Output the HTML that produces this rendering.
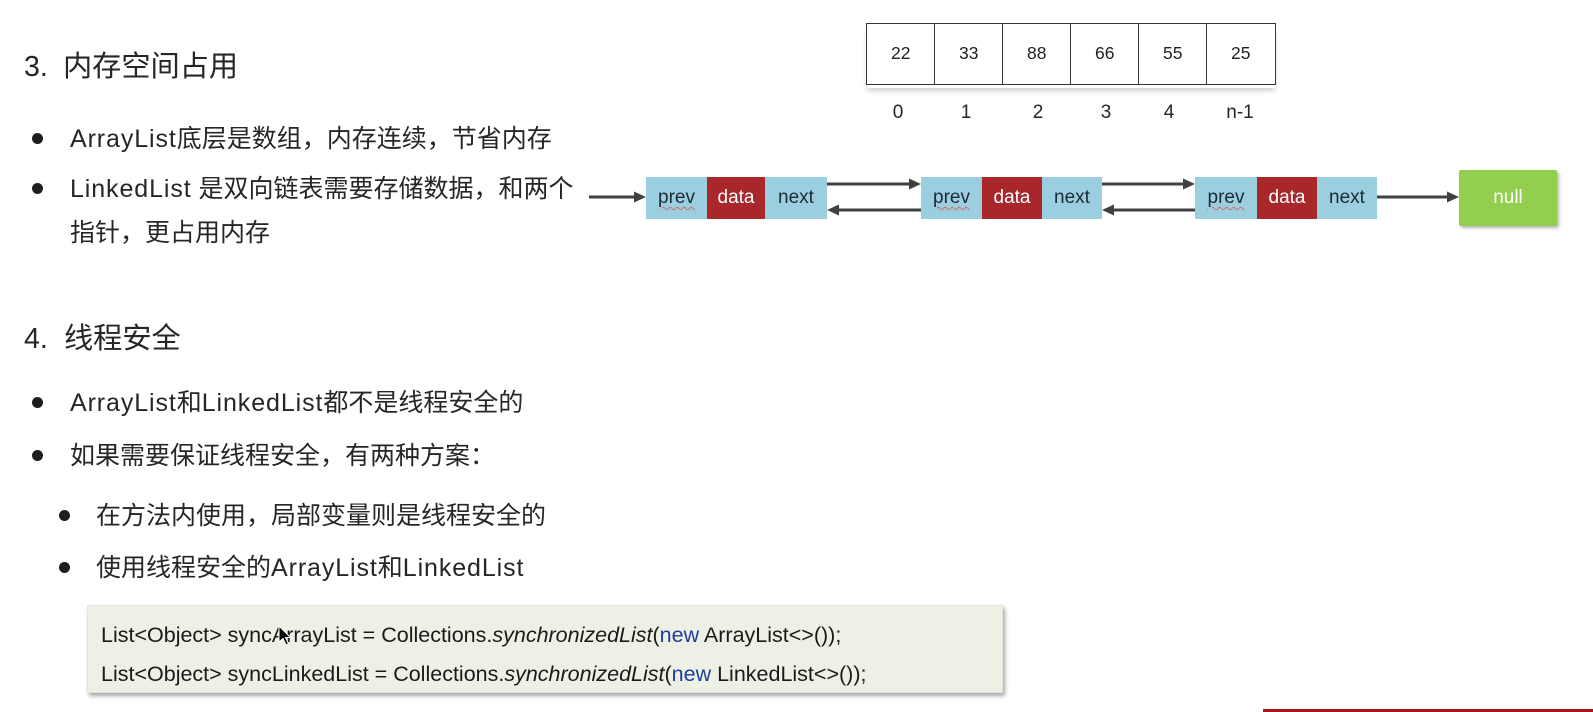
<!DOCTYPE html>
<html><head><meta charset="utf-8">
<style>
*{margin:0;padding:0;box-sizing:border-box}
html,body{width:1593px;height:712px;overflow:hidden;background:#fff}
body{position:relative;font-family:"Liberation Sans","Noto Sans CJK SC",sans-serif;color:#262626}
.a{position:absolute;white-space:nowrap}
.title{font-size:28.5px;line-height:34px}
.tc{font-size:29.2px}
.b{font-size:25px;line-height:30px}
.l{letter-spacing:0.9px}
.dot{position:absolute;width:11px;height:11px;border-radius:50%;background:#1e1e1e}
.cell{position:absolute;top:23px;height:62px;width:69.5px;border:1.5px solid #363636;background:#fff;font-size:17.5px;line-height:59px;text-align:center;color:#222}
.idx{position:absolute;top:100px;width:60px;text-align:center;font-size:19px;line-height:26px;color:#262626}
.seg{position:absolute;top:177px;height:42px;font-size:19px;line-height:42px;text-align:center}
.pv{background:#9bcfe0;color:#1c2a36}
.dt{background:#a9272a;color:#fff}
.nx{background:#9bcfe0;color:#1c2a36}
.wav{text-decoration:underline wavy #d46a6a;text-decoration-thickness:1px;text-underline-offset:3px}
.code{position:absolute;left:87px;top:605px;width:916px;height:88px;background:#edf0e4;border:1px solid #e2e5d8;box-shadow:2px 3px 4px rgba(0,0,0,0.35)}
.cl{position:absolute;left:13px;font-size:21.5px;line-height:26px;color:#1a1a1a;white-space:nowrap;font-family:"Liberation Sans",sans-serif}
.kw{color:#1f3c9e}
</style></head>
<body>

<!-- Section 3 -->
<div class="a title" style="left:24px;top:50px">3.</div>
<div class="a title tc" style="left:63px;top:50px">内存空间占用</div>

<div class="dot" style="left:32px;top:133px"></div>
<div class="a b" style="left:70px;top:124px"><span class="l">ArrayList</span>底层是数组，内存连续，节省内存</div>
<div class="dot" style="left:32px;top:183px"></div>
<div class="a b" style="left:70px;top:174px"><span class="l">LinkedList</span> 是双向链表需要存储数据，和两个</div>
<div class="a b" style="left:70px;top:218px">指针，更占用内存</div>

<!-- Section 4 -->
<div class="a title" style="left:24px;top:322px">4.</div>
<div class="a title tc" style="left:64px;top:322px">线程安全</div>

<div class="dot" style="left:32px;top:397px"></div>
<div class="a b" style="left:70px;top:388px"><span class="l">ArrayList</span>和<span class="l">LinkedList</span>都不是线程安全的</div>
<div class="dot" style="left:32px;top:450px"></div>
<div class="a b" style="left:70px;top:441px">如果需要保证线程安全，有两种方案：</div>

<div class="dot" style="left:59px;top:510px"></div>
<div class="a b" style="left:96px;top:501px">在方法内使用，局部变量则是线程安全的</div>
<div class="dot" style="left:59px;top:562px"></div>
<div class="a b" style="left:96px;top:553px">使用线程安全的<span class="l">ArrayList</span>和<span class="l">LinkedList</span></div>

<!-- Array -->
<div style="position:absolute;left:867px;top:28px;width:408px;height:60px;box-shadow:0 3px 5px rgba(0,0,0,0.18)"></div>
<div class="cell" style="left:866px">22</div>
<div class="cell" style="left:934px">33</div>
<div class="cell" style="left:1002px">88</div>
<div class="cell" style="left:1070px">66</div>
<div class="cell" style="left:1138px">55</div>
<div class="cell" style="left:1206px">25</div>

<div class="idx" style="left:868px">0</div>
<div class="idx" style="left:936px">1</div>
<div class="idx" style="left:1008px">2</div>
<div class="idx" style="left:1076px">3</div>
<div class="idx" style="left:1139px">4</div>
<div class="idx" style="left:1210px">n-1</div>

<!-- Linked list nodes -->
<div class="seg pv" style="left:646px;width:61px"><span class="wav">prev</span></div>
<div class="seg dt" style="left:707px;width:58px">data</div>
<div class="seg nx" style="left:765px;width:62px">next</div>

<div class="seg pv" style="left:921px;width:61px"><span class="wav">prev</span></div>
<div class="seg dt" style="left:982px;width:60px">data</div>
<div class="seg nx" style="left:1042px;width:60px">next</div>

<div class="seg pv" style="left:1195px;width:62px"><span class="wav">prev</span></div>
<div class="seg dt" style="left:1257px;width:60px">data</div>
<div class="seg nx" style="left:1317px;width:60px">next</div>

<div style="position:absolute;left:1459px;top:170px;width:98px;height:56px;background:#92cf4f;border-radius:2px;box-shadow:2px 2px 3px rgba(0,0,0,0.3);color:#fff;font-size:19px;line-height:56px;text-align:center">null</div>

<!-- Arrows -->
<svg style="position:absolute;left:0;top:0" width="1593" height="712">
  <g stroke="#404040" stroke-width="3" fill="none">
    <line x1="589" y1="197" x2="636" y2="197"/>
    <line x1="827" y1="184" x2="911" y2="184"/>
    <line x1="921" y1="210" x2="837" y2="210"/>
    <line x1="1102" y1="184" x2="1185" y2="184"/>
    <line x1="1195" y1="210" x2="1112" y2="210"/>
    <line x1="1377" y1="197" x2="1449" y2="197"/>
  </g>
  <g fill="#404040">
    <polygon points="646,197 634,191.5 634,202.5"/>
    <polygon points="921,184 909,178.5 909,189.5"/>
    <polygon points="827,210 839,204.5 839,215.5"/>
    <polygon points="1195,184 1183,178.5 1183,189.5"/>
    <polygon points="1102,210 1114,204.5 1114,215.5"/>
    <polygon points="1459,197 1447,191.5 1447,202.5"/>
  </g>
</svg>

<!-- Code box -->
<div class="code">
  <div class="cl" style="top:16px">List&lt;Object&gt; syncArrayList = Collections.<i>synchronizedList</i>(<span class="kw">new</span> ArrayList&lt;&gt;());</div>
  <div class="cl" style="top:55px">List&lt;Object&gt; syncLinkedList = Collections.<i>synchronizedList</i>(<span class="kw">new</span> LinkedList&lt;&gt;());</div>
</div>

<!-- cursor -->
<svg style="position:absolute;left:277px;top:625px" width="16" height="22">
  <polygon points="2,1 2,17 6,13.5 9,20 11.5,19 8.5,12.5 13.5,12.5" fill="#000" stroke="#fff" stroke-width="1"/>
</svg>

<!-- red bar bottom right -->
<div style="position:absolute;left:1263px;top:709px;width:330px;height:3px;background:#a5171c"></div>

</body></html>
